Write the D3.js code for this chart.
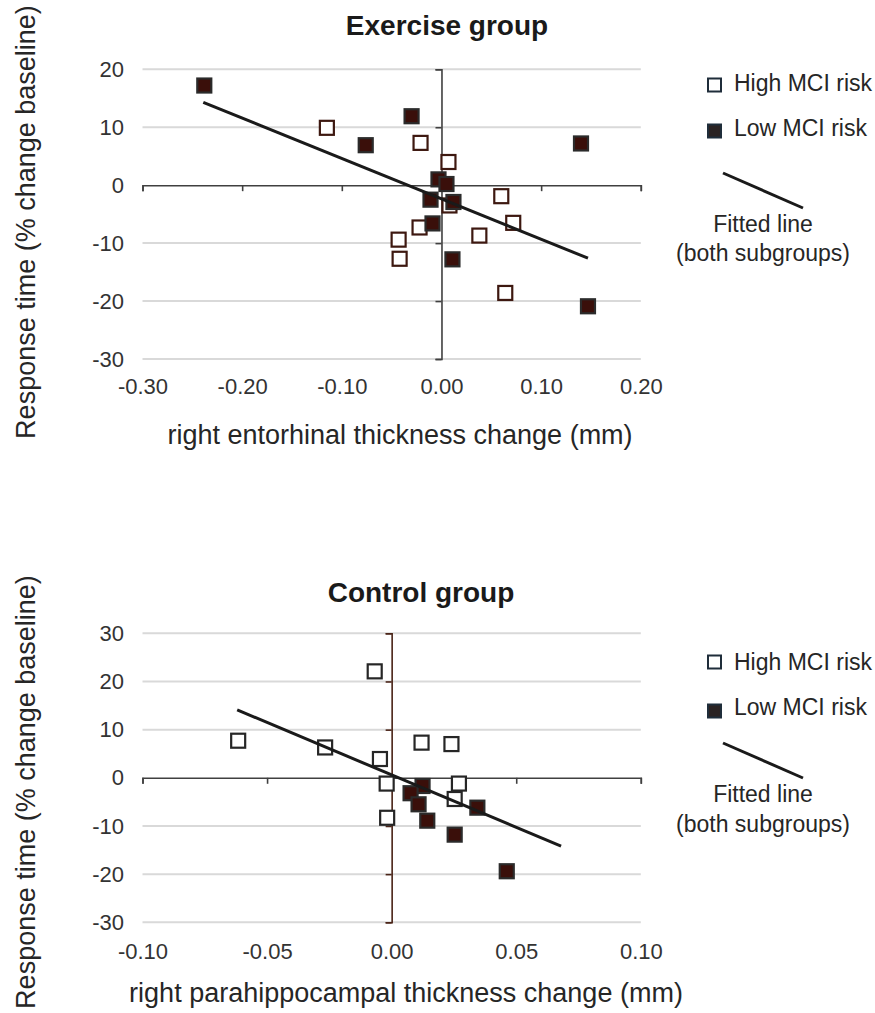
<!DOCTYPE html>
<html>
<head>
<meta charset="utf-8">
<script src="https://cdn.jsdelivr.net/npm/d3@7"></script>
<style>
  html, body { margin: 0; padding: 0; background: #fff; }
  svg { display: block; font-family: "Liberation Sans", Arial, sans-serif; }
</style>
</head>
<body>
<svg id="chart" width="875" height="1013"></svg>
<script>
// ---------- DATA ----------
// Exercise group (right entorhinal thickness change, mm)
const exHighX = [-0.115, -0.021, 0.007, 0.060, 0.008, 0.072, -0.022, 0.038, -0.043, -0.042, 0.064];
const exHighY = [9.9, 7.3, 4.0, -1.9, -3.5, -6.5, -7.3, -8.7, -9.4, -12.7, -18.6];
const exLowX  = [-0.238, -0.076, -0.030, 0.140, -0.003, 0.005, -0.011, 0.012, -0.009, 0.011, 0.147];
const exLowY  = [17.2, 6.9, 11.9, 7.2, 1.0, 0.2, -2.5, -2.9, -6.6, -12.8, -20.9];
const exFitX  = [-0.239, 0.147];
const exFitY  = [14.3, -12.6];
const exXTicks = [-0.30, -0.20, -0.10, 0.00, 0.10, 0.20];
const exYTicks = [20, 10, 0, -10, -20, -30];

// Control group (right parahippocampal thickness change, mm)
const ctHighX = [-0.0068, -0.0616, -0.0267, -0.0047, -0.0020, -0.0018, 0.0120, 0.0240, 0.0270, 0.0253];
const ctHighY = [22.1, 7.7, 6.3, 3.9, -1.2, -8.3, 7.3, 7.0, -1.2, -4.4];
const ctLowX  = [0.0124, 0.0076, 0.0108, 0.0143, 0.0344, 0.0253, 0.0462];
const ctLowY  = [-1.7, -3.2, -5.5, -8.9, -6.2, -11.8, -19.4];
const ctFitX  = [-0.062, 0.068];
const ctFitY  = [14.1, -14.2];
const ctXTicks = [-0.10, -0.05, 0.00, 0.05, 0.10];
const ctYTicks = [30, 20, 10, 0, -10, -20, -30];

const legendLabels = ["High MCI risk", "Low MCI risk"];
const fitLabel = ["Fitted line", "(both subgroups)"];

// ---------- DRAW ----------
const svg = d3.select("#chart");
const hy = f => d => f(d).replace("\u2212", "-");

function panel(cfg) {
  const g = svg.append("g");
  const x = d3.scaleLinear().domain(cfg.xDomain).range([142.5, 640.8]);
  const y = d3.scaleLinear().domain(cfg.yDomain).range([cfg.yBottom, cfg.yTop]);

  // gridlines
  g.append("g").selectAll("line").data(cfg.yTicks.filter(d => d !== 0)).join("line")
    .attr("x1", x.range()[0]).attr("x2", x.range()[1])
    .attr("y1", d => y(d)).attr("y2", d => y(d))
    .attr("stroke", "#d9d9d9").attr("stroke-width", 2);

  // y tick labels (left)
  const yl = g.append("g").attr("transform", "translate(124,0)")
    .call(d3.axisLeft(y).tickValues(cfg.yTicks).tickFormat(hy(d3.format("d"))).tickSize(0).tickPadding(0));
  yl.select(".domain").remove();
  yl.selectAll("text").attr("font-size", 22).attr("fill", "#333").attr("font-family", "Liberation Sans, Arial, sans-serif");

  // x tick labels (bottom)
  const xl = g.append("g").attr("transform", `translate(0,${cfg.yBottom})`)
    .call(d3.axisBottom(x).tickValues(cfg.xTicks).tickFormat(hy(d3.format(".2f"))).tickSize(0).tickPadding(0));
  xl.select(".domain").remove();
  xl.selectAll("text").attr("font-size", 22).attr("fill", "#333")
    .attr("font-family", "Liberation Sans, Arial, sans-serif")
    .attr("dy", null).attr("y", cfg.xLabelDy);

  // crossing axes
  const xa = g.append("g").attr("transform", `translate(0,${y(0)})`)
    .call(d3.axisBottom(x).tickValues(cfg.xTicks).tickFormat("").tickSizeInner(6).tickSizeOuter(6));
  xa.selectAll("path, line").attr("stroke", "#404040").attr("stroke-width", 1.6);
  const ya = g.append("g").attr("transform", `translate(${x(0)},0)`)
    .call(d3.axisLeft(y).tickValues(cfg.yTicks).tickFormat("").tickSizeInner(6).tickSizeOuter(6));
  ya.selectAll("path, line").attr("stroke", cfg.yAxisColor).attr("stroke-width", 1.6);

  const s = 14;
  // high risk (open)
  const hi = cfg.highX.map((v, i) => [v, cfg.highY[i]]);
  g.append("g").selectAll("rect").data(hi).join("rect")
    .attr("x", d => x(d[0]) - s / 2).attr("y", d => y(d[1]) - s / 2)
    .attr("width", s).attr("height", s)
    .attr("fill", "#fff").attr("stroke", cfg.openStroke).attr("stroke-width", 2.2);
  // low risk (filled)
  const lo = cfg.lowX.map((v, i) => [v, cfg.lowY[i]]);
  g.append("g").selectAll("rect").data(lo).join("rect")
    .attr("x", d => x(d[0]) - s / 2).attr("y", d => y(d[1]) - s / 2)
    .attr("width", s).attr("height", s)
    .attr("fill", "#3a0f0a").attr("stroke", "#2b2b2b").attr("stroke-width", 2.2);

  // fitted line
  const fit = cfg.fitX.map((v, i) => [v, cfg.fitY[i]]);
  g.append("path").datum(fit)
    .attr("d", d3.line().x(d => x(d[0])).y(d => y(d[1])))
    .attr("stroke", "#1a1a1a").attr("stroke-width", 3).attr("fill", "none");

  // title
  g.append("text").attr("x", cfg.titleX).attr("y", cfg.titleY)
    .attr("text-anchor", "middle").attr("font-size", 28).attr("font-weight", "bold")
    .attr("fill", "#1a1a1a").text(cfg.title);

  // axis titles
  g.append("text").attr("x", cfg.xTitleX).attr("y", cfg.xTitleY)
    .attr("text-anchor", "middle").attr("font-size", 27).attr("fill", "#262626").text(cfg.xTitle);
  g.append("text").attr("transform", `translate(35,${cfg.yTitleCY}) rotate(-90)`)
    .attr("text-anchor", "middle").attr("font-size", 27).attr("fill", "#262626")
    .text("Response time (% change baseline)");

  // legend
  const L = cfg.legend;
  const lg = g.append("g");
  lg.append("rect").attr("x", 708).attr("y", L.hiCY - 6.5).attr("width", 13).attr("height", 13)
    .attr("fill", "#fff").attr("stroke", "#1f2d3a").attr("stroke-width", 2);
  lg.append("text").attr("x", 734).attr("y", L.hiBase).attr("font-size", 23).attr("fill", "#262626").text(legendLabels[0]);
  lg.append("rect").attr("x", 708).attr("y", L.loCY - 6.5).attr("width", 13).attr("height", 13)
    .attr("fill", "#2a2222").attr("stroke", "#1f2d3a").attr("stroke-width", 2);
  lg.append("text").attr("x", 734).attr("y", L.loBase).attr("font-size", 23).attr("fill", "#262626").text(legendLabels[1]);
  lg.append("line").attr("x1", 723).attr("y1", L.lineY1).attr("x2", 803).attr("y2", L.lineY1 + 35)
    .attr("stroke", "#1a1a1a").attr("stroke-width", 3);
  lg.append("text").attr("x", 763).attr("y", L.f1).attr("text-anchor", "middle").attr("font-size", 23).attr("fill", "#262626").text(fitLabel[0]);
  lg.append("text").attr("x", 763).attr("y", L.f2).attr("text-anchor", "middle").attr("font-size", 23).attr("fill", "#262626").text(fitLabel[1]);
}

panel({
  xDomain: [-0.3, 0.2], yDomain: [-30, 20], yTop: 69.3, yBottom: 359,
  xTicks: exXTicks, yTicks: exYTicks, xLabelDy: 35,
  highX: exHighX, highY: exHighY, lowX: exLowX, lowY: exLowY, fitX: exFitX, fitY: exFitY,
  openStroke: "#3d1810", yAxisColor: "#404040",
  title: "Exercise group", titleX: 447, titleY: 35,
  xTitle: "right entorhinal thickness change (mm)", xTitleX: 400, xTitleY: 444,
  yTitleCY: 222,
  legend: { hiCY: 85, hiBase: 91, loCY: 131, loBase: 136, lineY1: 173, f1: 232, f2: 261 }
});

panel({
  xDomain: [-0.1, 0.1], yDomain: [-30, 30], yTop: 633.3, yBottom: 922.3,
  xTicks: ctXTicks, yTicks: ctYTicks, xLabelDy: 37,
  highX: ctHighX, highY: ctHighY, lowX: ctLowX, lowY: ctLowY, fitX: ctFitX, fitY: ctFitY,
  openStroke: "#262626", yAxisColor: "#4a2418",
  title: "Control group", titleX: 421, titleY: 602,
  xTitle: "right parahippocampal thickness change (mm)", xTitleX: 406, xTitleY: 1002,
  yTitleCY: 792,
  legend: { hiCY: 662, hiBase: 670, loCY: 711, loBase: 715, lineY1: 743, f1: 802, f2: 832 }
});
</script>
</body>
</html>
